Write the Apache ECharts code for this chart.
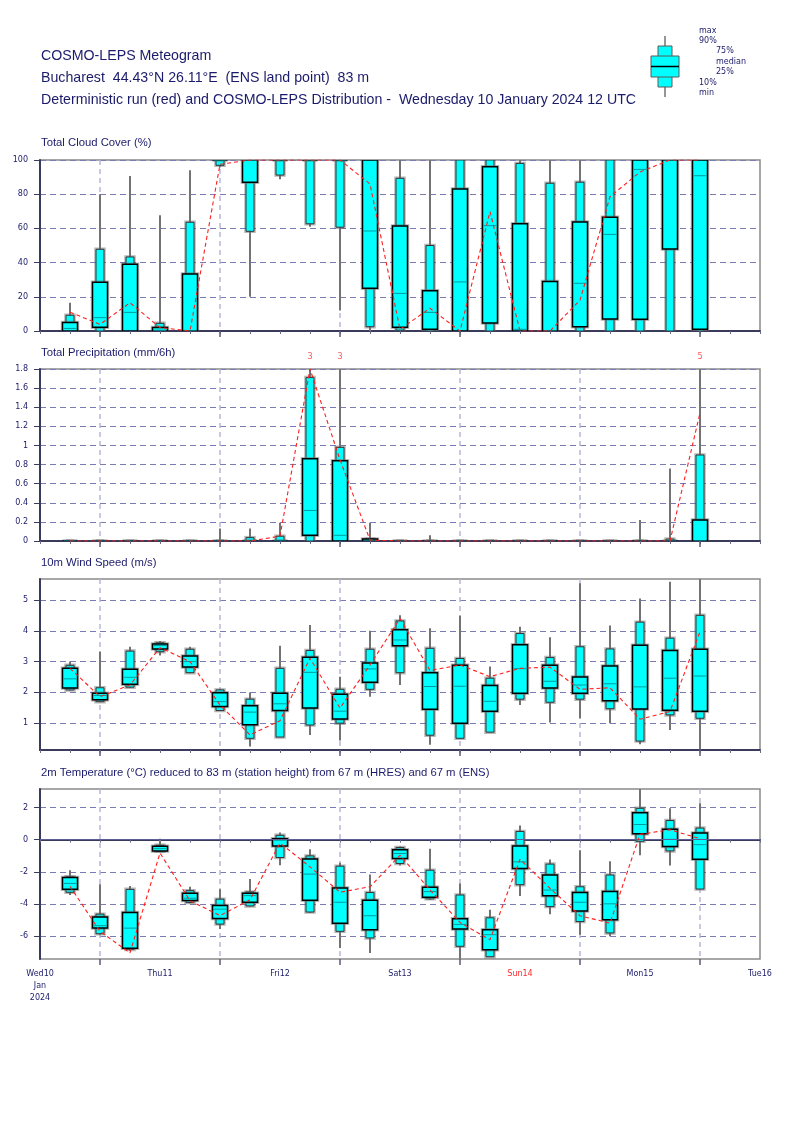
<!DOCTYPE html>
<html>
<head>
<meta charset="utf-8">
<script src="https://cdn.jsdelivr.net/npm/echarts@6.0.0/dist/echarts.min.js"></script>
<style>
html,body{margin:0;padding:0;background:#fff;}
#c{width:800px;height:1131px;}
</style>
</head>
<body>
<div id="c"></div>
<script>
// ---------- time axis (hours after Wed 10 Jan 2024 12 UTC) ----------
const steps = [6,12,18,24,30,36,42,48,54,60,66,72,78,84,90,96,102,108,114,120,126,132];
const sixHourTicks = [0,6,12,18,24,30,36,42,48,54,60,66,72,78,84,90,96,102,108,114,120,126,132,138,144];
const midnightTicks = [12,36,60,84,108,132];
const dayTicks = [0,24,48,72,96,120,144];
const dayLabels = ['Wed10\nJan\n2024','Thu11','Fri12','Sat13','Sun14','Mon15','Tue16'];

// ---------- tick labels ----------
const cloudTicks = [0,20,40,60,80,100];
const precipTicks = [0,0.2,0.4,0.6,0.8,1,1.2,1.4,1.6,1.8];
const windTicks = [1,2,3,4,5];
const tempTicks = [-6,-4,-2,0,2];

// ---------- data: [min, p10, p25, median, p75, p90, max] ----------
const cloudBoxes = [
  [0,0,0,1.5,5,9.2,16.5],
  [0,0,2.2,7.8,28.5,47.8,80],
  [0,0,0,10.9,39,43.3,90.6],
  [0,0,0,0.5,2,4.5,67.7],
  [0,0,0,0,33.3,63.6,94],
  [95.7,96.9,100,100,100,100,100],
  [20,58.3,87,100,100,100,100],
  [88.7,91.2,100,100,100,100,100],
  [61,62.7,100,100,100,100,100],
  [12,60.7,100,100,100,100,100],
  [0,2.5,25,58.5,100,100,100],
  [0,0.5,2.2,22,61.4,89.3,100],
  [0,0,1,10.9,23.6,50,100],
  [0,0,0,28.7,83,100,100],
  [0,0,4.7,61.6,96,100,100],
  [0,0,0,1,62.7,98,100],
  [0,0,0,0,29,86.4,100],
  [0,0,2.5,27.9,63.7,87,100],
  [0,0,7,56.5,66.5,100,100],
  [0,0,6.8,94.5,100,100,100],
  [0,0,48,100,100,100,100],
  [0,0,1,90.8,100,100,100]
];
const cloudDet = [11,3.9,16.5,2,0,97.5,100,100,100,100,86,1,13.3,0,69.8,0,0,18,78.5,93,100,100];

const precipBoxes = [
  [0,0,0,0,0,0,0],
  [0,0,0,0,0,0,0],
  [0,0,0,0,0,0,0],
  [0,0,0,0,0,0,0],
  [0,0,0,0,0,0,0],
  [0,0,0,0,0,0,0.13],
  [0,0,0,0,0,0.035,0.13],
  [0,0,0,0,0,0.05,0.19],
  [0,0,0.06,0.32,0.86,1.71,3],
  [0,0,0,0.06,0.84,0.98,3],
  [0,0,0,0,0.02,0.02,0.19],
  [0,0,0,0,0,0,0],
  [0,0,0,0,0,0,0.06],
  [0,0,0,0,0,0,0],
  [0,0,0,0,0,0,0],
  [0,0,0,0,0,0,0],
  [0,0,0,0,0,0,0],
  [0,0,0,0,0,0,0],
  [0,0,0,0,0,0,0],
  [0,0,0,0,0,0,0.22],
  [0,0,0,0,0,0.02,0.76],
  [0,0,0,0,0.22,0.9,5]
];
const precipDet = [0,0,0,0,0,0,0,0.05,1.8,0.85,0.01,0,0,0,0,0,0,0,0,0,0,1.34];

const windBoxes = [
  [2.06,2.08,2.14,2.44,2.78,2.88,3.0],
  [1.68,1.7,1.76,1.9,1.97,2.15,3.32],
  [2.15,2.17,2.26,2.49,2.75,3.34,3.48],
  [3.2,3.32,3.41,3.52,3.57,3.61,3.67],
  [2.62,2.64,2.82,3.0,3.18,3.4,3.48],
  [1.41,1.41,1.54,1.7,1.99,2.08,2.1],
  [0.24,0.51,0.95,1.36,1.57,1.78,2.0],
  [0.55,0.55,1.41,1.63,1.97,2.78,3.51],
  [0.62,0.94,1.49,2.65,3.14,3.36,4.19],
  [0.44,1.0,1.14,1.39,1.94,2.1,2.51],
  [1.86,2.1,2.33,2.76,2.95,3.4,4.0],
  [2.24,2.64,3.51,3.7,4.03,4.32,4.5],
  [0.3,0.61,1.45,2.19,2.64,3.43,4.08],
  [0.5,0.51,1.0,2.2,2.88,3.1,4.49],
  [0.71,0.71,1.39,1.71,2.22,2.46,2.84],
  [1.59,1.78,1.97,2.77,3.55,3.91,4.13],
  [1.02,1.68,2.14,2.36,2.88,3.13,3.79],
  [1.16,1.78,1.97,2.24,2.5,3.48,5.54],
  [1.0,1.47,1.73,2.28,2.86,3.41,4.17],
  [0.32,0.42,1.46,2.18,3.53,4.28,5.05],
  [0.78,1.27,1.42,2.46,3.36,3.76,5.59],
  [0.15,1.16,1.39,2.53,3.4,4.5,5.7]
];
const windDet = [2.78,1.86,2.24,3.45,3.0,1.59,0.62,1.08,3.11,1.49,2.89,4.4,2.71,2.89,2.51,2.78,2.82,2.1,2.15,1.13,1.38,3.97];

const tempBoxes = [
  [-3.44,-3.27,-3.09,-2.72,-2.35,-2.31,-1.9],
  [-5.9,-5.85,-5.5,-5.35,-4.81,-4.63,-2.77],
  [-6.9,-6.83,-6.75,-5.5,-4.53,-3.09,-2.88],
  [-0.75,-0.72,-0.7,-0.56,-0.41,-0.35,0.06],
  [-3.95,-3.91,-3.79,-3.64,-3.33,-3.17,-2.93],
  [-5.56,-5.25,-4.9,-4.32,-4.1,-3.7,-3.09],
  [-4.15,-4.12,-3.89,-3.48,-3.33,-3.25,-2.45],
  [-1.59,-1.11,-0.4,-0.04,0.06,0.27,0.45],
  [-4.55,-4.5,-3.77,-2.14,-1.2,-1.01,-0.6],
  [-6.73,-5.7,-5.19,-3.89,-3.0,-1.65,-1.44],
  [-7.04,-6.11,-5.6,-4.73,-3.77,-3.29,-2.16],
  [-1.6,-1.48,-1.17,-0.86,-0.62,-0.49,-0.43],
  [-3.74,-3.68,-3.58,-3.23,-2.96,-1.9,-0.56],
  [-7.4,-6.63,-5.56,-5.27,-4.92,-3.44,-2.72],
  [-7.3,-7.28,-6.85,-5.91,-5.6,-4.86,-4.36],
  [-3.5,-2.8,-1.79,-1.38,-0.4,0.51,0.88],
  [-4.63,-4.16,-3.48,-3.13,-2.2,-1.52,-1.23],
  [-5.91,-5.09,-4.43,-3.89,-3.29,-2.93,-0.66],
  [-6.01,-5.8,-4.98,-3.99,-3.23,-2.2,-1.34],
  [-0.97,-0.1,0.37,0.94,1.67,1.95,3.2],
  [-1.6,-0.7,-0.43,0.02,0.64,1.19,1.95],
  [-3.07,-3.07,-1.22,-0.31,0.41,0.72,2.26]
];
const tempDet = [-2.9,-5.7,-7.04,-0.83,-3.8,-4.72,-3.74,-0.21,-1.69,-3.27,-2.93,-0.97,-3.12,-5.15,-6.22,-1.22,-3.02,-4.73,-5.19,0.33,0.62,0.06];

// ---------- texts ----------
const headerLines = [
  'COSMO-LEPS Meteogram',
  'Bucharest  44.43°N 26.11°E  (ENS land point)  83 m',
  'Deterministic run (red) and COSMO-LEPS Distribution -  Wednesday 10 January 2024 12 UTC'
];
const panelTitles = [
  'Total Cloud Cover (%)',
  'Total Precipitation (mm/6h)',
  '10m Wind Speed (m/s)',
  '2m Temperature (°C) reduced to 83 m (station height) from 67 m (HRES) and 67 m (ENS)'
];
const legendLabels = ['max','90%','75%','median','25%','10%','min'];

// ---------- layout ----------
const NAVY = '#1b1b6b';
const LBL = 'DejaVu Sans';
const TTL = 'Liberation Sans';
const panels = [
  {boxes: cloudBoxes, det: cloudDet, ticks: cloudTicks, min: 0, max: 100, top: 160, height: 171, titleY: 143},
  {boxes: precipBoxes, det: precipDet, ticks: precipTicks, min: 0, max: 1.8, top: 369, height: 172, titleY: 353},
  {boxes: windBoxes, det: windDet, ticks: windTicks, min: 0.13, max: 5.68, top: 579, height: 171, titleY: 563},
  {boxes: tempBoxes, det: tempDet, ticks: tempTicks, min: -7.42, max: 3.15, top: 789, height: 170, titleY: 773}
];

function renderBox(params, api) {
  const t = api.value(0);
  const q = [];
  for (let k = 1; k <= 7; k++) q.push(api.value(k));
  const x = api.coord([t, q[3]])[0];
  const y = q.map(v => api.coord([t, v])[1]);
  const ww = api.size([3, 0])[0];
  const nw = api.size([1.6, 0])[0];
  const halo = 'rgba(110,110,110,0.5)';
  const nRect = {x: x - nw / 2, y: y[5], width: nw, height: y[1] - y[5]};
  const wRect = {x: x - ww / 2, y: y[4], width: ww, height: y[2] - y[4]};
  return {
    type: 'group',
    children: [
      {type: 'line', shape: {x1: x, y1: y[0], x2: x, y2: y[6]}, style: {stroke: '#737373', lineWidth: 2}},
      {type: 'rect', shape: nRect, style: {fill: 'none', stroke: halo, lineWidth: 3.5}},
      {type: 'rect', shape: nRect, style: {fill: '#00ffff', stroke: '#333333', lineWidth: 1}},
      {type: 'rect', shape: wRect, style: {fill: 'none', stroke: halo, lineWidth: 3.5}},
      {type: 'rect', shape: wRect, style: {fill: '#00ffff', stroke: '#000000', lineWidth: 1.5}},
      {type: 'line', shape: {x1: x - ww / 2 + 1, y1: y[3], x2: x + ww / 2 - 1, y2: y[3]}, style: {stroke: '#009c9c', lineWidth: 1}}
    ]
  };
}

const grid = [], xAxis = [], yAxis = [], series = [];
panels.forEach((p, i) => {
  grid.push({left: 40, right: 40, top: p.top, height: p.height, show: true,
    borderColor: '#8a8a8a', borderWidth: 1.5, backgroundColor: 'transparent'});
  const last = i === panels.length - 1;
  xAxis.push({
    gridIndex: i, type: 'value', min: 0, max: 144, position: 'bottom',
    axisLine: {show: true, lineStyle: {color: '#3a3a5a', width: 2}},
    axisTick: {show: true, customValues: sixHourTicks, length: 3, lineStyle: {color: '#6a6a8a', width: 1}},
    splitLine: {show: false},
    axisLabel: last ? {
      show: true, customValues: dayTicks, margin: 9, lineHeight: 12,
      fontFamily: LBL, fontSize: 8, color: NAVY,
      formatter: v => {
        const k = dayTicks.indexOf(v);
        const s = dayLabels[k];
        return k === 4 ? '{r|' + s + '}' : s;
      },
      rich: {r: {color: '#ff2a2a', fontFamily: LBL, fontSize: 8}}
    } : {show: false}
  });
  xAxis.push({
    gridIndex: i, type: 'value', min: 0, max: 144, position: 'bottom',
    axisLine: {show: false},
    axisTick: {show: true, customValues: midnightTicks, length: 6, lineStyle: {color: '#5a5a7a', width: 1.5}},
    axisLabel: {show: false},
    splitLine: {show: true, lineStyle: {color: '#b6b6d8', width: 1.5, type: [5, 4]}}
  });
  yAxis.push({
    gridIndex: i, type: 'value', min: p.min, max: p.max,
    axisLine: {show: true, lineStyle: {color: '#3a3a5a', width: 2}},
    axisTick: {show: true, customValues: p.ticks, length: 6, lineStyle: {color: '#3a3a5a', width: 1}},
    axisLabel: {show: true, customValues: p.ticks, margin: 12, fontFamily: LBL, fontSize: 8, color: NAVY},
    splitLine: {show: true, lineStyle: {color: '#7b7bb5', width: 1, type: [6, 4]}}
  });
  const boxSeries = {
    type: 'custom', xAxisIndex: 2 * i, yAxisIndex: i, clip: true, silent: true,
    renderItem: renderBox,
    encode: {x: 0, y: [1, 2, 3, 4, 5, 6, 7]},
    data: steps.map((t, k) => [t].concat(p.boxes[k])),
    z: 3
  };
  if (i === 3) {
    boxSeries.markLine = {
      silent: true, symbol: 'none', label: {show: false}, animation: false,
      lineStyle: {color: '#5e5e96', type: 'solid', width: 1},
      data: [{yAxis: 0}]
    };
  }
  series.push(boxSeries);
  series.push({
    type: 'line', xAxisIndex: 2 * i, yAxisIndex: i, clip: true, silent: true,
    symbol: 'none', showSymbol: false,
    lineStyle: {color: '#ff1e1e', width: 1.1, type: [4, 3]},
    data: steps.map((t, k) => [t, p.det[k]]),
    z: 5
  });
});

// values above the precipitation scale are written above the panel
const precipOver = steps
  .map((t, k) => [t, panels[1].max, precipBoxes[k][6]])
  .filter(d => d[2] > panels[1].max);
series.push({
  type: 'scatter', xAxisIndex: 2, yAxisIndex: 1, clip: false, silent: true,
  symbolSize: 1, itemStyle: {color: 'rgba(0,0,0,0)'},
  label: {show: true, position: 'top', distance: 8, formatter: p => String(p.value[2]),
    color: '#ff2a2a', fontFamily: LBL, fontSize: 8},
  data: precipOver, z: 6
});

// ---------- texts and legend ----------
const graphic = [];
headerLines.forEach((s, k) => {
  graphic.push({type: 'text', left: 41, top: [49, 71, 93][k],
    style: {text: s, font: '14.2px "' + TTL + '"', fill: NAVY}});
});
panels.forEach((p, i) => {
  graphic.push({type: 'text', left: 41, top: p.titleY - 6,
    style: {text: panelTitles[i], font: '11.3px "' + TTL + '"', fill: NAVY}});
});
// legend illustration
graphic.push({type: 'line', shape: {x1: 665, y1: 36, x2: 665, y2: 97}, style: {stroke: '#737373', lineWidth: 1.5}});
graphic.push({type: 'rect', shape: {x: 658, y: 46, width: 14, height: 41}, style: {fill: '#00ffff', stroke: '#5a5a5a', lineWidth: 1}});
graphic.push({type: 'rect', shape: {x: 651, y: 56, width: 28, height: 21}, style: {fill: '#00ffff', stroke: '#5a5a5a', lineWidth: 1}});
graphic.push({type: 'line', shape: {x1: 651, y1: 66.5, x2: 679, y2: 66.5}, style: {stroke: '#000', lineWidth: 1.5}});
const legX = [699, 699, 716, 716, 716, 699, 699];
const legY = [32, 42, 52, 63, 73, 84, 94];
legendLabels.forEach((s, k) => {
  graphic.push({type: 'text', left: legX[k], top: legY[k] - 5,
    style: {text: s, font: '8px "' + LBL + '"', fill: NAVY}});
});

const chart = echarts.init(document.getElementById('c'));
chart.setOption({
  animation: false,
  backgroundColor: '#ffffff',
  grid, xAxis, yAxis, series, graphic
});
</script>
</body>
</html>
